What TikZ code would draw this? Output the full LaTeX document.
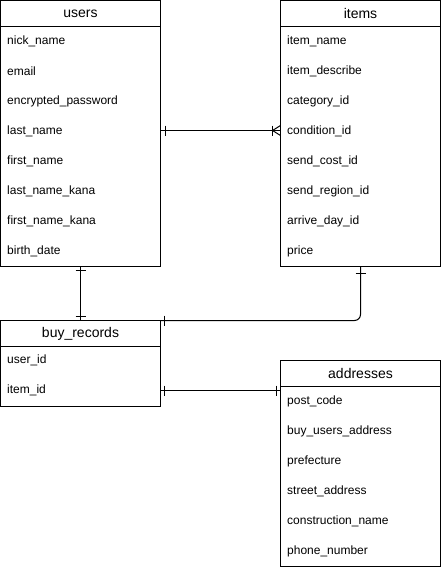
\documentclass[tikz,border=0pt]{standalone}
\usepackage{fontspec}
\setmainfont{Liberation Sans}
\begin{document}
\begin{tikzpicture}[x=1pt,y=-1pt,
  box/.style={draw=black,line width=1pt,fill=white},
  title/.style={font=\fontsize{14}{16}\selectfont,anchor=center,inner sep=0pt},
  row/.style={font=\fontsize{12}{14}\selectfont,anchor=west,inner sep=0pt},
  conn/.style={draw=black,line width=1pt},
  tick/.style={draw=black,line width=1pt}]
\useasboundingbox (0,0) rectangle (441,570);
% users
\draw[box] (0.5,0.5) rectangle (160.5,266.5);
\draw[line width=1pt] (0.5,26.5) -- (160.5,26.5);
\node[title] (usersT) at (80.5,13.5) {users};
\foreach \t [count=\i from 0] in {nick\_name,email,encrypted\_password,last\_name,first\_name,last\_name\_kana,first\_name\_kana,birth\_date}
  \node[row] (u\i) at (7,41.5+30*\i) {\t};
% items
\draw[box] (280.5,0.5) rectangle (440.5,266.5);
\draw[line width=1pt] (280.5,26.5) -- (440.5,26.5);
\node[title] (itemsT) at (360.5,13.5) {items};
\foreach \t [count=\i from 0] in {item\_name,item\_describe,category\_id,condition\_id,send\_cost\_id,send\_region\_id,arrive\_day\_id,price}
  \node[row] (it\i) at (287,41.5+30*\i) {\t};
% buy_records
\draw[box] (0.5,320.5) rectangle (160.5,406.5);
\draw[line width=1pt] (0.5,346.5) -- (160.5,346.5);
\node[title] (buyT) at (80.5,333.5) {buy\_records};
\node[row] (b0) at (7,360.5) {user\_id};
\node[row] (b1) at (7,390.5) {item\_id};
% addresses
\draw[box] (280.5,360.5) rectangle (440.5,566.5);
\draw[line width=1pt] (280.5,386.5) -- (440.5,386.5);
\node[title] (addrT) at (360.5,373.5) {addresses};
\foreach \t [count=\i from 0] in {post\_code,buy\_users\_address,prefecture,street\_address,construction\_name,phone\_number}
  \node[row] (a\i) at (287,401.5+30*\i) {\t};
% connector users - items
\coordinate (c1a) at (160.5,130.5);
\coordinate (c1b) at (280.5,130.5);
\draw[conn] (c1a) -- (c1b);
\draw[tick] (165.5,125.5) -- (165.5,135.5);
\draw[tick] (272.5,125.5) -- (272.5,135.5);
\draw[tick] (272.5,130.5) -- (280.5,125.5);
\draw[tick] (272.5,130.5) -- (280.5,135.5);
% users - buy_records
\coordinate (c2a) at (80.5,266.5);
\coordinate (c2b) at (80.5,320.5);
\draw[conn] (c2a) -- (c2b);
\draw[tick] (75.5,270.5) -- (85.5,270.5);
\draw[tick] (75.5,316.5) -- (85.5,316.5);
% items - buy_records
\coordinate (c3a) at (360.5,266.5);
\coordinate (c3b) at (160.5,320.5);
\draw[conn,rounded corners=6pt] (c3a) |- (c3b);
\draw[tick] (355.5,273.5) -- (365.5,273.5);
\draw[tick] (164.5,315.5) -- (164.5,325.5);
% buy_records - addresses
\coordinate (c4a) at (160.5,390.5);
\coordinate (c4b) at (280.5,390.5);
\draw[conn] (c4a) -- (c4b);
\draw[tick] (164.5,385.5) -- (164.5,395.5);
\draw[tick] (276.5,385.5) -- (276.5,395.5);
\end{tikzpicture}
\end{document}
